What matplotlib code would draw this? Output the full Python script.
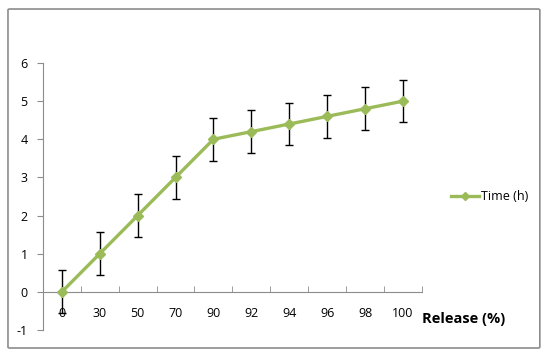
import matplotlib.pyplot as plt
from matplotlib.patches import FancyBboxPatch
import numpy as np

release = ["0", "30", "50", "70", "90", "92", "94", "96", "98", "100"]
time_h = [0, 1, 2, 3, 4, 4.2, 4.4, 4.6, 4.8, 5]
err = [0.56, 0.56, 0.56, 0.56, 0.56, 0.56, 0.56, 0.56, 0.56, 0.56]

plt.rcParams['font.family'] = ['Open Sans', 'DejaVu Sans']
plt.rcParams['axes.unicode_minus'] = False

fig = plt.figure(figsize=(5.5, 3.61), dpi=100)
# outer chart frame
frame = FancyBboxPatch((0.0145, 0.036), 0.967, 0.939, boxstyle="round,pad=0,rounding_size=0.003",
                       transform=fig.transFigure, fill=False, edgecolor="#8c8c8c", lw=1.2)
fig.patches.append(frame)

ax = fig.add_axes([0.078, 0.0859, 0.689, 0.7396])
x = np.arange(len(release))
green = "#9BBB59"
ax.errorbar(x, time_h, yerr=err, fmt="none", ecolor="black", elinewidth=1, capsize=3, capthick=1, zorder=2)
ax.plot(x, time_h, color=green, lw=2.4, marker="D", markersize=5, label="Time (h)", zorder=3)

ax.set_xlim(-0.5, len(release) - 0.5)
ax.set_ylim(-1, 6)
ax.set_yticks(range(-1, 7))

for s in ["top", "right"]:
    ax.spines[s].set_visible(False)
ax.spines["bottom"].set_position(("data", 0))
ax.spines["left"].set_color("#8c8c8c")
ax.spines["bottom"].set_color("#8c8c8c")

ax.set_xticks(x)
ax.set_xticklabels(release, fontsize=9)
ax.tick_params(axis="x", length=0, pad=11)
ax.set_xticks(np.arange(-0.5, len(release)), minor=True)
ax.tick_params(axis="x", which="minor", direction="in", length=4, color="#8c8c8c")
ax.tick_params(axis="y", direction="out", length=4, color="#8c8c8c", labelsize=9, pad=7)

fig.text(0.768, 0.104, "Release (%)", fontsize=10.5, fontweight="bold")

ax.legend(loc="center left", bbox_to_anchor=(0.8, 0.455), bbox_transform=fig.transFigure,
          frameon=False, fontsize=9, handlelength=2.2, handletextpad=0.2, markerscale=0.8)

fig.savefig("out.png", dpi=100)
